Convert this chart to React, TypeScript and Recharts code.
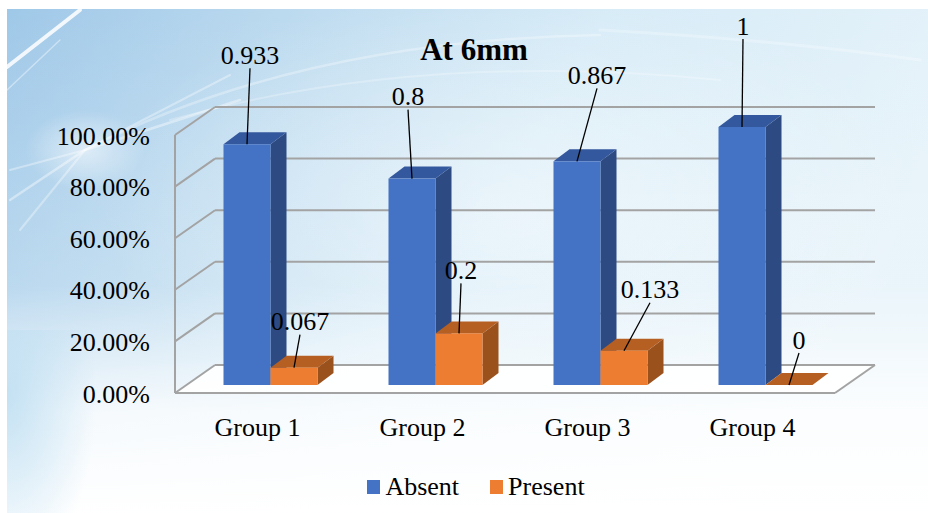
import React from 'react'
import { BarChart, Bar, XAxis, YAxis, CartesianGrid, LabelList, Legend } from 'recharts'

const categories = ['Group 1', 'Group 2', 'Group 3', 'Group 4']
const absentValues = [0.933, 0.8, 0.867, 1]
const presentValues = [0.067, 0.2, 0.133, 0]
const yTicks = [0, 0.2, 0.4, 0.6, 0.8, 1]

// label nudges (label centre relative to bar top centre), as dragged in the original
const absentLabelNudge = [
  [3, -89],
  [-4, -82],
  [20, -86],
  [1, -101],
]
const presentLabelNudge = [
  [6, -46],
  [2, -63],
  [26, -61],
  [10, -45],
]

const data = categories.map((name, i) => ({
  name,
  Absent: absentValues[i],
  Present: presentValues[i],
}))

const W = 928
const H = 513
const MARGIN = { top: 127, right: 93, bottom: 98, left: 0 }
const PLOT_TOP = MARGIN.top
const PLOT_BOTTOM = H - MARGIN.bottom - 30
const FONT = '"Liberation Serif", "Times New Roman", serif'

// 3d projection
const WALL_DX = 40
const BACK_RISE = 20
const FRONT_DROP = 8
const BAR_SHIFT = 12.5
const BAR_DX = 16
const BAR_DY = 12
const GRID = '#a3a3a3'

const BLUE = { front: '#4472c4', top: '#34589d', side: '#2d4a82' }
const ORANGE = { front: '#ed7d31', top: '#b65f22', side: '#9b511c' }

function WallLine(props: any) {
  const { x1, x2, y1 } = props
  const back = y1 - BACK_RISE
  const front = y1 + FRONT_DROP
  const isFloor = Math.abs(y1 - PLOT_BOTTOM) < 1
  const isTop = Math.abs(y1 - PLOT_TOP) < 1
  return (
    <g>
      {isFloor && (
        <polygon
          points={`${x1},${front} ${x2},${front} ${x2 + WALL_DX},${back} ${x1 + WALL_DX},${back}`}
          fill="#ffffff"
          fillOpacity={0.9}
        />
      )}
      <line x1={x1 + WALL_DX} y1={back} x2={x2 + WALL_DX} y2={back} stroke={GRID} strokeWidth={2} />
      <line x1={x1} y1={front} x2={x1 + WALL_DX} y2={back} stroke={GRID} strokeWidth={2} />
      {isFloor && (
        <>
          <line x1={x1} y1={front} x2={x2} y2={front} stroke={GRID} strokeWidth={2} />
          <line x1={x2} y1={front} x2={x2 + WALL_DX} y2={back} stroke={GRID} strokeWidth={2} />
        </>
      )}
      {isTop && (
        <line x1={x1} y1={front} x2={x1} y2={PLOT_BOTTOM + FRONT_DROP} stroke={GRID} strokeWidth={2} />
      )}
    </g>
  )
}

function Box3D(props: any) {
  const { y, width, height, colors } = props
  const x = props.x + BAR_SHIFT
  const h = Math.max(0, height)
  return (
    <g>
      {h > 0 && (
        <polygon
          points={`${x + width},${y} ${x + width + BAR_DX},${y - BAR_DY} ${x + width + BAR_DX},${y + h - BAR_DY} ${x + width},${y + h}`}
          fill={colors.side}
        />
      )}
      <polygon
        points={`${x},${y} ${x + width},${y} ${x + width + BAR_DX},${y - BAR_DY} ${x + BAR_DX},${y - BAR_DY}`}
        fill={colors.top}
      />
      {h > 0 && <rect x={x} y={y} width={width} height={h} fill={colors.front} />}
    </g>
  )
}

function makeLabel(nudges: number[][]) {
  return (props: any) => {
    const { x, y, width, value, index } = props
    const cx = x + BAR_SHIFT + width / 2
    const [dx, dy] = nudges[index] || [0, -40]
    const lx = cx + dx
    const ly = y + dy
    return (
      <g>
        <line x1={lx} y1={ly + 13} x2={cx} y2={y} stroke="#000" strokeWidth={1.3} />
        <text
          x={lx}
          y={ly}
          textAnchor="middle"
          dominantBaseline="central"
          fontFamily={FONT}
          fontSize={26}
          fill="#000"
        >
          {value}
        </text>
      </g>
    )
  }
}

function YTick(props: any) {
  const { x, y, payload } = props
  return (
    <text
      x={x - 25}
      y={y + 9}
      textAnchor="end"
      dominantBaseline="central"
      fontFamily={FONT}
      fontSize={26}
      fill="#000"
    >
      {(payload.value * 100).toFixed(2) + '%'}
    </text>
  )
}

function XTick(props: any) {
  const { x, y, payload } = props
  return (
    <text
      x={x}
      y={y + 42}
      textAnchor="middle"
      dominantBaseline="central"
      fontFamily={FONT}
      fontSize={26}
      fill="#000"
    >
      {payload.value}
    </text>
  )
}

function LegendBox() {
  const items = [
    { name: 'Absent', color: BLUE.front },
    { name: 'Present', color: ORANGE.front },
  ]
  return (
    <div
      style={{
        display: 'flex',
        justifyContent: 'center',
        gap: 31,
        fontFamily: FONT,
        fontSize: 26,
        lineHeight: '30px',
        paddingLeft: 24,
      }}
    >
      {items.map((it) => (
        <div key={it.name} style={{ display: 'flex', alignItems: 'center' }}>
          <span style={{ width: 13, height: 14, background: it.color, marginRight: 5, display: 'inline-block' }} />
          <span style={{ color: '#000' }}>{it.name}</span>
        </div>
      ))}
    </div>
  )
}

function Background() {
  return (
    <svg width={W} height={H} style={{ position: 'absolute', left: 0, top: 0 }}>
      <defs>
        <linearGradient id="bgBase" x1="0" y1="0" x2="1" y2="0.3">
          <stop offset="0%" stopColor="#9fc8e8" />
          <stop offset="28%" stopColor="#bcdaef" />
          <stop offset="60%" stopColor="#d6ebf7" />
          <stop offset="100%" stopColor="#e6f3fa" />
        </linearGradient>
        <linearGradient id="bgFade" x1="0" y1="0" x2="0" y2="1">
          <stop offset="0%" stopColor="#ffffff" stopOpacity={0} />
          <stop offset="55%" stopColor="#ffffff" stopOpacity={0.15} />
          <stop offset="80%" stopColor="#ffffff" stopOpacity={0.85} />
          <stop offset="100%" stopColor="#ffffff" stopOpacity={1} />
        </linearGradient>
        <radialGradient id="leftEdge" cx="0" cy="0.35" r="1">
          <stop offset="0%" stopColor="#bfdff2" stopOpacity={0.9} />
          <stop offset="100%" stopColor="#bfdff2" stopOpacity={0} />
        </radialGradient>
        <radialGradient id="bgGlow" cx="0.55" cy="0.4" r="0.45">
          <stop offset="0%" stopColor="#ffffff" stopOpacity={0.45} />
          <stop offset="100%" stopColor="#ffffff" stopOpacity={0} />
        </radialGradient>
        <radialGradient id="burst" cx="0.5" cy="0.5" r="0.5">
          <stop offset="0%" stopColor="#ffffff" stopOpacity={0.55} />
          <stop offset="100%" stopColor="#ffffff" stopOpacity={0} />
        </radialGradient>
      </defs>
      <rect x={7} y={9} width={W - 7} height={H - 9} fill="url(#bgBase)" />
      <rect x={7} y={9} width={W - 7} height={H - 9} fill="url(#bgGlow)" />
      <ellipse cx={85} cy={150} rx={60} ry={40} fill="url(#burst)" />
      <g fill="none" stroke="#ffffff" strokeLinecap="round">
        <path d="M 7 67 L 80 10" strokeWidth={4} strokeOpacity={0.85} />
        <path d="M 7 90 L 60 40" strokeWidth={1.5} strokeOpacity={0.4} />
        <path d="M 10 170 L 85 150 L 230 75" strokeWidth={2} strokeOpacity={0.35} />
        <path d="M 10 200 L 85 150 L 240 100" strokeWidth={2.5} strokeOpacity={0.4} />
        <path d="M 20 230 L 85 150" strokeWidth={2} strokeOpacity={0.35} />
        <path d="M 85 150 Q 300 40 600 35" strokeWidth={2.5} strokeOpacity={0.3} />
        <path d="M 170 120 Q 420 50 720 80" strokeWidth={2} strokeOpacity={0.25} />
        <path d="M 600 30 Q 780 40 920 60" strokeWidth={3} strokeOpacity={0.25} />
      </g>
      <rect x={7} y={9} width={W - 7} height={H - 9} fill="url(#bgFade)" />
      <rect x={7} y={330} width={90} height={H - 330} fill="url(#leftEdge)" />
    </svg>
  )
}

export default function App() {
  return (
    <div style={{ position: 'absolute', left: 0, top: 0, width: W, height: H, background: '#fff' }}>
      <Background />
      <div
        style={{
          position: 'absolute',
          left: 0,
          top: 30,
          width: W,
          textAlign: 'center',
          paddingLeft: 20,
          boxSizing: 'border-box',
          fontFamily: FONT,
          fontWeight: 'bold',
          fontSize: 31,
          lineHeight: '40px',
          color: '#000',
        }}
      >
        At 6mm
      </div>
      <div style={{ position: 'absolute', left: 0, top: 0 }}>
        <BarChart width={W} height={H} data={data} margin={MARGIN} barSize={47} barGap={0}>
          <CartesianGrid vertical={false} horizontal={(p: any) => <WallLine key={p.key} {...p} />} />
          <XAxis
            dataKey="name"
            axisLine={false}
            tickLine={false}
            tickSize={0}
            tickMargin={0}
            height={30}
            tick={<XTick />}
            interval={0}
          />
          <YAxis
            domain={[0, 1]}
            ticks={yTicks}
            axisLine={false}
            tickLine={false}
            tickSize={0}
            tickMargin={0}
            width={175}
            tick={<YTick />}
            interval={0}
          />
          <Legend
            layout="horizontal"
            verticalAlign="middle"
            align="center"
            wrapperStyle={{ top: 472, left: 0, width: W }}
            content={() => <LegendBox />}
          />
          <Bar
            dataKey="Absent"
            fill={BLUE.front}
            isAnimationActive={false}
            shape={(p: any) => <Box3D {...p} colors={BLUE} />}
          >
            <LabelList dataKey="Absent" content={makeLabel(absentLabelNudge)} />
          </Bar>
          <Bar
            dataKey="Present"
            fill={ORANGE.front}
            isAnimationActive={false}
            shape={(p: any) => <Box3D {...p} colors={ORANGE} />}
          >
            <LabelList dataKey="Present" content={makeLabel(presentLabelNudge)} />
          </Bar>
        </BarChart>
      </div>
    </div>
  )
}
